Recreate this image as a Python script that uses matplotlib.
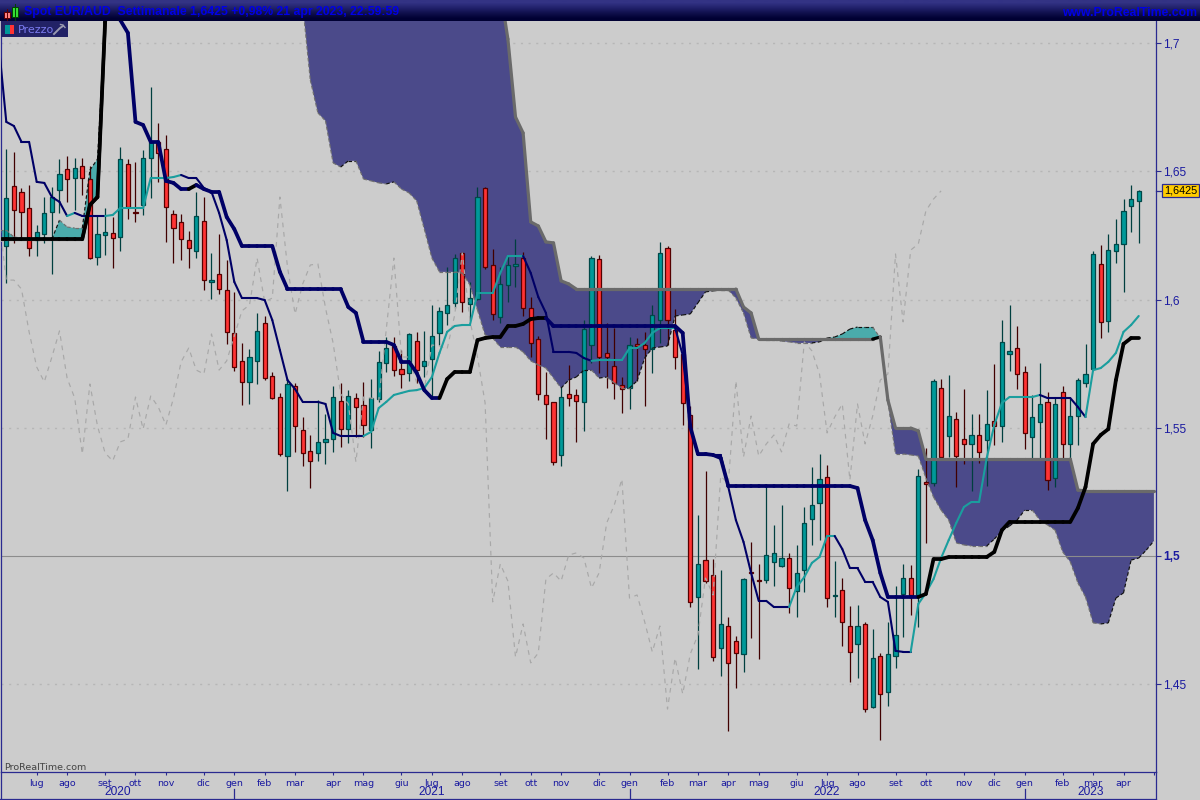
import numpy as np
import pandas as pd
import matplotlib
matplotlib.use('Agg')
import matplotlib.pyplot as plt
from matplotlib.lines import Line2D
from matplotlib.patches import Rectangle

plt.rcParams['font.family'] = ['Liberation Sans', 'DejaVu Sans']

# weekly EUR/AUD candles
open_ = [1.6209, 1.6443, 1.6420, 1.6357, 1.6232, 1.6256, 1.6341, 1.6427, 1.6509, 1.6474,
         1.6521, 1.6470, 1.6166, 1.6252, 1.6260, 1.6244, 1.6529, 1.6341, 1.6369, 1.6552,
         1.6615, 1.6587, 1.6334, 1.6303, 1.6232, 1.6190, 1.6307, 1.6069, 1.6100, 1.6037,
         1.5870, 1.5761, 1.5679, 1.5761, 1.5909, 1.5702, 1.5620, 1.5390, 1.5663, 1.5491,
         1.5410, 1.5402, 1.5445, 1.5456, 1.5605, 1.5495, 1.5616, 1.5589, 1.5491, 1.5612,
         1.5753, 1.5819, 1.5729, 1.5714, 1.5839, 1.5741, 1.5768, 1.5870, 1.5948, 1.5987,
         1.6182, 1.5983, 1.6002, 1.6435, 1.6135, 1.5932, 1.6057, 1.6131, 1.6162, 1.5967,
         1.5846, 1.5628, 1.5601, 1.5394, 1.5632, 1.5628, 1.5601, 1.5823, 1.6158, 1.5792,
         1.5741, 1.5667, 1.5655, 1.5827, 1.5823, 1.5807, 1.5920, 1.6201, 1.5881, 1.5788,
         1.5550, 1.4840, 1.4984, 1.4926, 1.4641, 1.4727, 1.4668, 1.4618, 1.4938, 1.4906,
         1.4906, 1.4977, 1.4961, 1.4992, 1.4863, 1.4945, 1.5144, 1.5207, 1.5308, 1.4844,
         1.4867, 1.4727, 1.4657, 1.4735, 1.4411, 1.4610, 1.4470, 1.4610, 1.4852, 1.4914,
         1.4848, 1.5289, 1.5285, 1.5655, 1.5468, 1.5534, 1.5456, 1.5437, 1.5472, 1.5452,
         1.5527, 1.5507, 1.5788, 1.5811, 1.5718, 1.5464, 1.5523, 1.5601, 1.5304, 1.5640,
         1.5437, 1.5546, 1.5675, 1.5729, 1.6139, 1.5917, 1.6190, 1.6217, 1.6365, 1.6385]
high = [1.6587, 1.6576, 1.6435, 1.6447, 1.6291, 1.6400, 1.6439, 1.6548, 1.6560, 1.6552,
        1.6552, 1.6521, 1.6330, 1.6357, 1.6322, 1.6595, 1.6548, 1.6537, 1.6583, 1.6829,
        1.6689, 1.6642, 1.6349, 1.6334, 1.6268, 1.6420, 1.6400, 1.6182, 1.6256, 1.6154,
        1.6030, 1.5831, 1.5807, 1.5948, 1.5936, 1.5718, 1.5636, 1.5690, 1.5675, 1.5542,
        1.5472, 1.5608, 1.5554, 1.5663, 1.5675, 1.5647, 1.5636, 1.5679, 1.5690, 1.5800,
        1.5854, 1.5854, 1.5803, 1.5870, 1.5874, 1.5878, 1.5979, 1.5971, 1.6127, 1.6178,
        1.6186, 1.6069, 1.6439, 1.6439, 1.6197, 1.6127, 1.6174, 1.6236, 1.6186, 1.6010,
        1.5858, 1.5718, 1.5601, 1.5659, 1.5745, 1.5651, 1.5920, 1.6170, 1.6174, 1.5909,
        1.5889, 1.5698, 1.5854, 1.5850, 1.5874, 1.5979, 1.6225, 1.6209, 1.5963, 1.5803,
        1.5585, 1.5160, 1.5332, 1.4988, 1.4945, 1.4762, 1.4688, 1.4914, 1.5055, 1.4969,
        1.5281, 1.5121, 1.5199, 1.5012, 1.5043, 1.5191, 1.5347, 1.5398, 1.5355, 1.4980,
        1.4914, 1.4805, 1.4809, 1.4743, 1.4715, 1.4622, 1.4743, 1.4883, 1.4969, 1.4965,
        1.5339, 1.5421, 1.5690, 1.5690, 1.5706, 1.5562, 1.5651, 1.5554, 1.5554, 1.5647,
        1.5749, 1.5920, 1.5979, 1.5897, 1.5741, 1.5628, 1.5753, 1.5640, 1.5616, 1.5663,
        1.5616, 1.5694, 1.5827, 1.6190, 1.6213, 1.6256, 1.6314, 1.6392, 1.6447, 1.6427]
low = [1.6064, 1.6221, 1.6244, 1.6170, 1.6170, 1.6221, 1.6100, 1.6338, 1.6381, 1.6349,
       1.6408, 1.6158, 1.6135, 1.6174, 1.6123, 1.6190, 1.6314, 1.6303, 1.6330, 1.6396,
       1.6459, 1.6225, 1.6143, 1.6154, 1.6123, 1.6162, 1.6037, 1.6002, 1.6022, 1.5827,
       1.5722, 1.5589, 1.5593, 1.5671, 1.5686, 1.5612, 1.5390, 1.5254, 1.5406, 1.5351,
       1.5265, 1.5371, 1.5359, 1.5406, 1.5425, 1.5441, 1.5464, 1.5464, 1.5421, 1.5601,
       1.5718, 1.5702, 1.5655, 1.5683, 1.5675, 1.5698, 1.5616, 1.5823, 1.5901, 1.5967,
       1.5952, 1.5920, 1.5998, 1.6119, 1.5920, 1.5909, 1.5991, 1.6049, 1.5936, 1.5776,
       1.5608, 1.5456, 1.5355, 1.5351, 1.5585, 1.5445, 1.5488, 1.5753, 1.5714, 1.5655,
       1.5612, 1.5558, 1.5573, 1.5683, 1.5585, 1.5714, 1.5831, 1.5823, 1.5729, 1.5511,
       1.4801, 1.4559, 1.4895, 1.4590, 1.4532, 1.4317, 1.4485, 1.4548, 1.4680, 1.4598,
       1.4895, 1.4883, 1.4957, 1.4778, 1.4762, 1.4860, 1.5043, 1.5062, 1.4801, 1.4762,
       1.4649, 1.4509, 1.4524, 1.4392, 1.4407, 1.4282, 1.4415, 1.4563, 1.4684, 1.4770,
       1.4723, 1.5051, 1.5273, 1.5382, 1.5386, 1.5269, 1.5359, 1.5254, 1.5363, 1.5273,
       1.5433, 1.5445, 1.5722, 1.5651, 1.5417, 1.5382, 1.5382, 1.5257, 1.5269, 1.5382,
       1.5382, 1.5433, 1.5659, 1.5725, 1.5850, 1.5874, 1.6143, 1.6030, 1.6264, 1.6221]
close = [1.6396, 1.6349, 1.6341, 1.6201, 1.6264, 1.6338, 1.6400, 1.6490, 1.6470, 1.6513,
         1.6474, 1.6162, 1.6256, 1.6264, 1.6240, 1.6548, 1.6361, 1.6338, 1.6552, 1.6615,
         1.6572, 1.6361, 1.6279, 1.6236, 1.6201, 1.6326, 1.6076, 1.6076, 1.6041, 1.5874,
         1.5737, 1.5679, 1.5776, 1.5878, 1.5694, 1.5616, 1.5398, 1.5671, 1.5507, 1.5402,
         1.5371, 1.5445, 1.5456, 1.5620, 1.5495, 1.5624, 1.5581, 1.5511, 1.5616, 1.5757,
         1.5811, 1.5725, 1.5710, 1.5866, 1.5725, 1.5761, 1.5858, 1.5956, 1.5979, 1.6162,
         1.5991, 1.6006, 1.6400, 1.6127, 1.5944, 1.6061, 1.6135, 1.6139, 1.5967, 1.5831,
         1.5632, 1.5593, 1.5367, 1.5620, 1.5616, 1.5605, 1.5885, 1.6162, 1.5776, 1.5776,
         1.5675, 1.5651, 1.5823, 1.5819, 1.5807, 1.5940, 1.6182, 1.5920, 1.5776, 1.5597,
         1.4821, 1.4969, 1.4902, 1.4606, 1.4735, 1.4583, 1.4622, 1.4910, 1.4934, 1.4902,
         1.5004, 1.5012, 1.4992, 1.4875, 1.4934, 1.5129, 1.5199, 1.5300, 1.4836, 1.4848,
         1.4743, 1.4626, 1.4727, 1.4403, 1.4602, 1.4462, 1.4618, 1.4692, 1.4914, 1.4848,
         1.5312, 1.5281, 1.5683, 1.5386, 1.5546, 1.5390, 1.5437, 1.5472, 1.5406, 1.5515,
         1.5507, 1.5835, 1.5800, 1.5710, 1.5480, 1.5542, 1.5593, 1.5296, 1.5593, 1.5437,
         1.5546, 1.5686, 1.5710, 1.6178, 1.5913, 1.6193, 1.6217, 1.6346, 1.6392, 1.6424]

# these two and the cloud start one week before the first candle
kijun = [1.6236, 1.6236, 1.6236, 1.6236, 1.6236, 1.6236, 1.6236, 1.6236, 1.6236, 1.6236, 1.6236, 1.6236,
         1.6369, 1.6400, 1.7083, 1.7246, 1.7090, 1.7040, 1.6693, 1.6681, 1.6615, 1.6615, 1.6463, 1.6455,
         1.6431, 1.6431, 1.6447, 1.6431, 1.6420, 1.6420, 1.6322, 1.6275, 1.6209, 1.6209, 1.6209, 1.6209,
         1.6209, 1.6108, 1.6041, 1.6041, 1.6041, 1.6041, 1.6041, 1.6041, 1.6041, 1.6041, 1.5971, 1.5948,
         1.5835, 1.5835, 1.5835, 1.5835, 1.5823, 1.5757, 1.5757, 1.5714, 1.5647, 1.5616, 1.5616, 1.5690,
         1.5718, 1.5718, 1.5718, 1.5842, 1.5850, 1.5854, 1.5854, 1.5897, 1.5897, 1.5905, 1.5924, 1.5928,
         1.5928, 1.5897, 1.5897, 1.5897, 1.5897, 1.5897, 1.5897, 1.5897, 1.5897, 1.5897, 1.5897, 1.5897,
         1.5897, 1.5897, 1.5897, 1.5897, 1.5897, 1.5897, 1.5870, 1.5503, 1.5398, 1.5398, 1.5394, 1.5382,
         1.5273, 1.5273, 1.5273, 1.5273, 1.5273, 1.5273, 1.5273, 1.5273, 1.5273, 1.5273, 1.5273, 1.5273,
         1.5273, 1.5273, 1.5273, 1.5273, 1.5273, 1.5265, 1.5140, 1.5062, 1.4934, 1.4840, 1.4840, 1.4840,
         1.4840, 1.4840, 1.4852, 1.4988, 1.4988, 1.4996, 1.4996, 1.4996, 1.4996, 1.4996, 1.4996, 1.5016,
         1.5101, 1.5133, 1.5133, 1.5133, 1.5133, 1.5133, 1.5133, 1.5133, 1.5133, 1.5133, 1.5187, 1.5269,
         1.5437, 1.5472, 1.5495, 1.5686, 1.5827, 1.5850, 1.5850]
tenkan = [1.6997, 1.6693, 1.6677, 1.6615, 1.6615, 1.6459, 1.6455, 1.6400, 1.6381, 1.6326, 1.6338, 1.6326,
          1.6326, 1.6326, 1.6326, 1.6330, 1.6357, 1.6357, 1.6357, 1.6357, 1.6474, 1.6474, 1.6474, 1.6478,
          1.6486, 1.6474, 1.6474, 1.6435, 1.6420, 1.6338, 1.6232, 1.6069, 1.6006, 1.6006, 1.6006, 1.5998,
          1.5920, 1.5803, 1.5686, 1.5651, 1.5601, 1.5601, 1.5601, 1.5593, 1.5480, 1.5468, 1.5468, 1.5468,
          1.5468, 1.5484, 1.5577, 1.5601, 1.5628, 1.5636, 1.5644, 1.5647, 1.5655, 1.5698, 1.5792, 1.5874,
          1.5897, 1.5901, 1.5901, 1.6026, 1.6026, 1.6026, 1.6104, 1.6170, 1.6170, 1.6170, 1.6104, 1.6010,
          1.5948, 1.5796, 1.5796, 1.5796, 1.5792, 1.5772, 1.5761, 1.5764, 1.5764, 1.5764, 1.5764, 1.5811,
          1.5811, 1.5831, 1.5870, 1.5889, 1.5889, 1.5889, 1.5784, 1.5507, 1.5394, 1.5394, 1.5394, 1.5394,
          1.5269, 1.5140, 1.5055, 1.4934, 1.4825, 1.4825, 1.4801, 1.4801, 1.4801, 1.4879, 1.4918, 1.4973,
          1.4996, 1.5078, 1.5078, 1.5027, 1.4953, 1.4953, 1.4899, 1.4899, 1.4840, 1.4821, 1.4630, 1.4626,
          1.4626, 1.4813, 1.4856, 1.4910, 1.4992, 1.5062, 1.5129, 1.5191, 1.5211, 1.5211, 1.5382, 1.5511,
          1.5597, 1.5620, 1.5620, 1.5620, 1.5620, 1.5628, 1.5616, 1.5616, 1.5616, 1.5616, 1.5581, 1.5542,
          1.5725, 1.5733, 1.5757, 1.5792, 1.5874, 1.5901, 1.5936]
# cloud edges run two weeks past the last candle; 1.73 / 1.75 = above the visible range
span_a = [1.6271, 1.6271, 1.6244, 1.6240, 1.6236, 1.6236, 1.6236, 1.6236, 1.6310, 1.6283, 1.6279, 1.6279,
          1.6505, 1.6548, 1.7083] + [1.73] * 25 + [
          1.7149, 1.6856, 1.6728, 1.6697, 1.6533, 1.6517, 1.6541, 1.6541, 1.6470, 1.6463, 1.6455, 1.6451,
          1.6459, 1.6431, 1.6416, 1.6385, 1.6275, 1.6162, 1.6108, 1.6108, 1.6108, 1.6104, 1.6057, 1.5959,
          1.5862, 1.5850, 1.5815, 1.5815, 1.5815, 1.5796, 1.5761, 1.5745, 1.5733, 1.5694, 1.5655, 1.5686,
          1.5698, 1.5725, 1.5725, 1.5694, 1.5698, 1.5675, 1.5655, 1.5655, 1.5683, 1.5772, 1.5811, 1.5815,
          1.5819, 1.5936, 1.5940, 1.5944, 1.5987, 1.6030, 1.6034, 1.6037, 1.6037, 1.6006, 1.5948, 1.5850,
          1.5846, 1.5842, 1.5842, 1.5838, 1.5835, 1.5831, 1.5831, 1.5831, 1.5835, 1.5850, 1.5854, 1.5866,
          1.5885, 1.5893, 1.5893, 1.5893, 1.5850, 1.5601, 1.5398, 1.5398, 1.5394, 1.5390, 1.5304, 1.5230,
          1.5179, 1.5140, 1.5051, 1.5043, 1.5039, 1.5039, 1.5039, 1.5066, 1.5098, 1.5117, 1.5140, 1.5179,
          1.5179, 1.5140, 1.5121, 1.5101, 1.5016, 1.4977, 1.4895, 1.4840, 1.4739, 1.4735, 1.4739, 1.4836,
          1.4856, 1.4984, 1.4992, 1.5023, 1.5059]
span_b = [1.6236, 1.6236, 1.6236, 1.6236, 1.6236, 1.6236, 1.6236, 1.6236, 1.6236, 1.6236, 1.6236, 1.6236,
          1.6369, 1.6400, 1.7080] + [1.75] * 51 + [
          1.7207, 1.7016, 1.6712, 1.6650, 1.6303, 1.6287, 1.6225, 1.6221, 1.6073, 1.6061,
          1.6041, 1.6041, 1.6041, 1.6041, 1.6041, 1.6041, 1.6041, 1.6041, 1.6041, 1.6041, 1.6041,
          1.6041, 1.6041, 1.6041, 1.6041, 1.6041, 1.6041, 1.6041, 1.6041, 1.6041, 1.6041, 1.6041,
          1.5971, 1.5948, 1.5846, 1.5846, 1.5846, 1.5846, 1.5846, 1.5846, 1.5846, 1.5846, 1.5846,
          1.5846, 1.5846, 1.5846, 1.5846, 1.5846, 1.5846, 1.5846, 1.5854, 1.5608, 1.5499, 1.5499,
          1.5499, 1.5488, 1.5378, 1.5378, 1.5378, 1.5378, 1.5378, 1.5378, 1.5378, 1.5378, 1.5378,
          1.5378, 1.5378, 1.5378, 1.5378, 1.5378, 1.5378, 1.5378, 1.5378, 1.5378, 1.5378, 1.5378,
          1.5257, 1.5254, 1.5254, 1.5254, 1.5254, 1.5254, 1.5254, 1.5254, 1.5254, 1.5254, 1.5254]

month_names = ['gen', 'feb', 'mar', 'apr', 'mag', 'giu', 'lug', 'ago', 'set', 'ott', 'nov', 'dic']
price_ticks = [1.45, 1.5, 1.55, 1.6, 1.65, 1.7]
price_labels = ['1,45', '1,5', '1,55', '1,6', '1,65', '1,7']
years = ['2020', '2021', '2022', '2023']
last_price = 1.6425

BG = '#cccccc'
NAVY = '#000066'
AXIS = '#2a2a90'
TXT = '#1a1aa0'
TEAL_LINE = '#1a9e9e'


def direction_colors(vals, up, down, start):
    # a line keeps the colour of its last move while it runs flat
    colors = []
    cur = start
    for a, b in zip(vals[:-1], vals[1:]):
        if b > a:
            cur = up
        elif b < a:
            cur = down
        colors.append(cur)
    return colors


def plot_segments(ax, x, vals, colors, **kw):
    for i, c in enumerate(colors):
        ax.plot(x[i:i + 2], vals[i:i + 2], color=c, **kw)


fig = plt.figure(figsize=(12, 8), dpi=100, facecolor=BG)
ax = fig.add_axes([1 / 1200, 28 / 800, 1155 / 1200, 751 / 800], facecolor=BG)

idx = np.arange(len(close))
line_x = np.arange(len(kijun)) - 1
cloud_x = np.arange(len(span_a)) - 1
a = np.array(span_a)
b = np.array(span_b)

# grid
for p in price_ticks:
    if p == 1.5:
        ax.axhline(p, color='#8c8c8c', lw=0.8, zorder=2)
    else:
        ax.axhline(p, color='#b6b6b6', lw=1.0, ls=(0, (1.5, 4)), zorder=1)

# cloud
ax.fill_between(cloud_x, a, b, where=a >= b, interpolate=True, color='#4aabab', lw=0, zorder=1.5)
ax.fill_between(cloud_x, a, b, where=a < b, interpolate=True, color='#4b4a8a', lw=0, zorder=1.5)

# candles
ups = np.array(close) >= np.array(open_)
ax.vlines(idx[ups], np.array(low)[ups], np.array(high)[ups], color='#003f3f', lw=0.9, zorder=3)
ax.vlines(idx[~ups], np.array(low)[~ups], np.array(high)[~ups], color='#400000', lw=0.9, zorder=3)
body = np.abs(np.array(close) - np.array(open_))
bottom = np.minimum(close, open_)
ax.bar(idx[ups], body[ups], 0.56, bottom[ups], color='#009999', edgecolor='#004848', lw=0.9, zorder=3.1)
ax.bar(idx[~ups], body[~ups], 0.56, bottom[~ups], color='#ff3333', edgecolor='#550000', lw=0.9, zorder=3.1)

# lagging line is the close drawn 26 weeks back
ax.plot(np.arange(len(close) - 25) - 1, close[25:], color='#a8a8a8', lw=0.85, ls=(0, (4, 4)), zorder=4)

# cloud edges
plot_segments(ax, cloud_x, span_a, direction_colors(span_a, '#111111', '#707070', '#707070'),
              lw=0.85, ls=(0, (3, 2)), zorder=4.2)
plot_segments(ax, cloud_x, span_b, direction_colors(span_b, '#000000', '#6a6a6a', '#6a6a6a'),
              lw=2.3, solid_capstyle='round', zorder=4.4)

# tenkan / kijun
plot_segments(ax, line_x, tenkan, direction_colors(tenkan, TEAL_LINE, NAVY, NAVY),
              lw=1.5, solid_capstyle='round', zorder=4.6)
plot_segments(ax, line_x, kijun, direction_colors(kijun, '#000000', NAVY, '#000000'),
              lw=2.7, solid_capstyle='round', zorder=4.8)

ax.set_xlim(-0.697, 151.276)
ax.set_ylim(1.41576, 1.70865)

# x ticks on the first candle of each month
dates = pd.date_range('2020-06-08', periods=len(close) + 2, freq='W-MON')
tick_pos = [i for i in range(1, len(dates)) if dates[i].month != dates[i - 1].month]
tick_lab = [month_names[dates[i].month - 1] for i in tick_pos]
tick_lab[-1] = ''
ax.set_xticks(tick_pos)
ax.set_xticklabels(tick_lab, fontsize=6.8, color=TXT, family=['DejaVu Sans'])
ax.tick_params(axis='x', length=2.5, width=0.8, color=AXIS, pad=2.5)

ax.yaxis.tick_right()
ax.set_yticks(price_ticks)
ax.set_yticklabels(price_labels, fontsize=8.6, color=TXT)
ax.get_yticklabels()[1].set_fontweight('bold')
ax.tick_params(axis='y', length=3.6, width=0.8, color=AXIS, pad=1.5)

for name in ('top',):
    ax.spines[name].set_visible(False)
for name in ('left', 'right', 'bottom'):
    ax.spines[name].set_color(AXIS)
    ax.spines[name].set_linewidth(0.9)

# years and the january separators
jan = [i for i in tick_pos if dates[i].month == 1]
edges = [-0.697] + jan + [151.276]
xform = ax.get_xaxis_transform()
for k, y in enumerate(years):
    ax.text((edges[k] + edges[k + 1]) / 2, -0.0266, y, transform=xform, ha='center', va='center',
            fontsize=8.6, color=TXT)
for j in jan:
    ax.plot([j, j], [-0.0225, -0.0355], transform=xform, color=AXIS, lw=0.9, clip_on=False)

# outer frame below the plot
fig.add_artist(Line2D([0, 1156 / 1200], [0.8 / 800, 0.8 / 800], color=AXIS, lw=0.9))
fig.add_artist(Line2D([1 / 1200, 1 / 1200], [0, 28 / 800], color=AXIS, lw=0.9))
fig.add_artist(Line2D([1156 / 1200, 1156 / 1200], [0, 28 / 800], color=AXIS, lw=0.9))

ax.text(3 / 1155, 5 / 751, 'ProRealTime.com', transform=ax.transAxes, fontsize=6.8, color='#444444',
        family=['DejaVu Sans'], ha='left', va='center', zorder=6)

# last price tag
yform = ax.get_yaxis_transform()
ax.plot([1.0, 1 + 6 / 1155], [last_price, last_price], transform=yform, color=AXIS, lw=0.9, clip_on=False)
ax.text(1 + 8 / 1155, last_price, '1,6425', transform=yform, ha='left', va='center', fontsize=7.8,
        color='black', bbox=dict(boxstyle='square,pad=0.17', fc='#ffcc00', ec=AXIS, lw=0.9), zorder=7)

# title bar
head = fig.add_axes([0, 1 - 21 / 800, 1, 21 / 800])
grad = np.array([[0.20, 0.20, 0.52], [0.13, 0.13, 0.42], [0.06, 0.06, 0.30], [0.0, 0.0, 0.2]])[:, None, :]
head.imshow(grad, aspect='auto', extent=(0, 1200, 21, 0), interpolation='bilinear')
head.set_xlim(0, 1200)
head.set_ylim(21, 0)
head.axis('off')
head.text(24, 12.5, 'Spot EUR/AUD  Settimanale 1,6425 +0,98% 21 apr 2023, 22:59:59', color='#0000e6',
          fontsize=8.8, fontweight='bold', va='center', ha='left')
head.text(1197, 12.5, 'www.ProRealTime.com', color='#0000e6', fontsize=8.8, fontweight='bold',
          va='center', ha='right')
head.add_patch(Rectangle((3.5, 11.5), 6, 6, fc='#ff8080', ec='#600000', lw=0.7))
head.plot([6.5, 6.5], [9, 20], color='#600000', lw=0.7)
head.add_patch(Rectangle((11.5, 7), 6, 10, fc='#33dd33', ec='#004400', lw=0.7))
head.plot([14.5, 14.5], [4, 20], color='#004400', lw=0.7)

# Prezzo badge
badge = fig.add_axes([1 / 1200, 1 - 37 / 800, 67 / 1200, 16 / 800], facecolor='#222266')
badge.set_xlim(1, 68)
badge.set_ylim(37, 21)
badge.set_xticks([])
badge.set_yticks([])
for s in badge.spines.values():
    s.set_visible(False)
badge.add_patch(Rectangle((5, 25), 4.5, 9, fc='#009999', lw=0))
badge.add_patch(Rectangle((9.5, 25), 4.5, 9, fc='#ff3333', lw=0))
badge.text(18, 29.7, 'Prezzo', color='#7a7aee', fontsize=8, va='center', ha='left', family=['DejaVu Sans'])
badge.plot([54, 60, 63], [34, 28, 26], color='#9a9ab0', lw=1.4)
badge.plot([60.5, 63, 65], [24.5, 25, 27.5], color='#9a9ab0', lw=1.0)

fig.savefig('out.png', dpi=100, facecolor=BG)
